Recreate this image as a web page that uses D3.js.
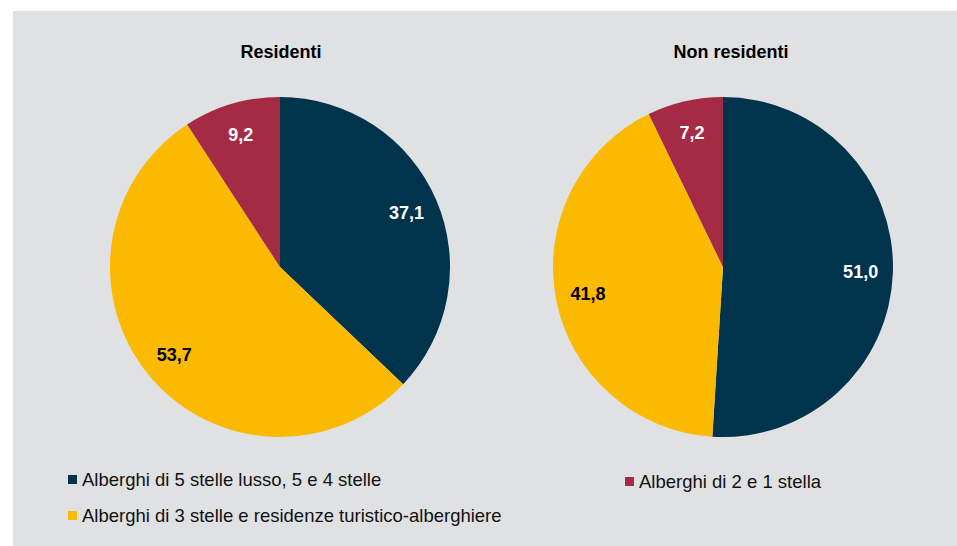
<!DOCTYPE html>
<html><head><meta charset="utf-8">
<script src="https://cdn.jsdelivr.net/npm/d3@7"></script>
<style>html,body{margin:0;padding:0;background:#fff;}svg{display:block;}</style>
</head><body>
<svg id="c" width="957" height="546"></svg>
<script>
const categories = ["Alberghi di 5 stelle lusso, 5 e 4 stelle", "Alberghi di 3 stelle e residenze turistico-alberghiere", "Alberghi di 2 e 1 stella"];
const panels = ["Residenti", "Non residenti"];
const residenti = [37.1, 53.7, 9.2];
const nonResidenti = [51.0, 41.8, 7.2];
const colors = ["#00334C", "#FBBA00", "#A52B45"];
const labelColors = ["#ffffff", "#000000", "#ffffff"];
const FONT = "Liberation Sans";

const svg = d3.select("#c");
svg.append("rect").attr("x", 13).attr("y", 11).attr("width", 944).attr("height", 535).attr("fill", "#E0E1E3");

const fmt = v => d3.format(".1f")(v).replace(".", ",");
const R = 170;
const centers = [[280, 267], [723, 267]];
const titleX = [281, 731];
const series = [residenti, nonResidenti];
const arc = d3.arc().innerRadius(0).outerRadius(R);
const labelArc = d3.arc().innerRadius(R * 0.81).outerRadius(R * 0.81);

series.forEach((vals, i) => {
  const g = svg.append("g").attr("transform", `translate(${centers[i][0]},${centers[i][1]})`);
  const arcs = d3.pie().sort(null).value(d => d.v)(vals.map((v, k) => ({v, k})));
  g.selectAll("path").data(arcs).join("path")
    .attr("d", arc).attr("fill", d => colors[d.data.k]);
  g.selectAll("text").data(arcs).join("text")
    .attr("transform", d => `translate(${labelArc.centroid(d)})`)
    .attr("text-anchor", "middle").attr("dy", "0.35em")
    .attr("font-family", FONT)
    .attr("font-weight", "bold").attr("font-size", 18)
    .attr("fill", d => labelColors[d.data.k])
    .text(d => fmt(d.data.v));
  svg.append("text").attr("x", titleX[i]).attr("y", 58)
    .attr("text-anchor", "middle").attr("font-weight", "bold").attr("font-size", 18)
    .attr("font-family", FONT)
    .attr("fill", "#000").text(panels[i]);
});

const legendPos = [[68, 475], [68, 511], [625, 477]];
categories.forEach((c, k) => {
  const [x, y] = legendPos[k];
  svg.append("rect").attr("x", x).attr("y", y).attr("width", 9).attr("height", 9).attr("fill", colors[k]);
  svg.append("text").attr("x", x + 14).attr("y", y + 10.5).attr("font-size", 18.5)
    .attr("font-family", FONT).attr("fill", "#111").text(c);
});
</script>
</body></html>
